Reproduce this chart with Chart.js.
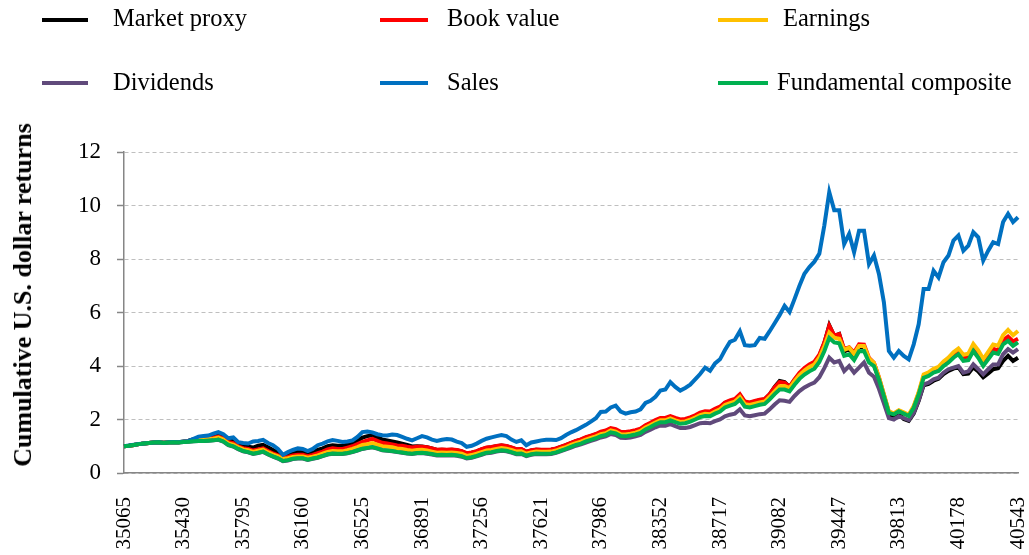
<!DOCTYPE html>
<html>
<head>
<meta charset="utf-8">
<script src="https://cdn.jsdelivr.net/npm/chart.js@4/dist/chart.umd.min.js"></script>
<style>
  html, body { margin: 0; padding: 0; background: #fff; overflow: hidden; }
  #wrap { position: relative; width: 1029px; height: 555px; }
  #chart { position: absolute; left: 0; top: 0; }
  .key { position: absolute; height: 4px; }
  .txt { position: absolute; font-family: "Liberation Serif", "Times New Roman", serif; font-size: 24.5px; line-height: 24.5px; color: #000; white-space: nowrap; }
  #ytitle { position: absolute; left: 23px; top: 295px; transform: translate(-50%, -50%) rotate(-90deg);
    font-family: "Liberation Serif", "Times New Roman", serif; font-weight: bold; font-size: 26px; white-space: nowrap; color: #000; }
</style>
</head>
<body>
<div id="wrap">
  <canvas id="chart" width="1029" height="555"></canvas>
  <div id="legend"></div>
  <div id="ytitle">Cumulative U.S. dollar returns</div>
</div>
<script>
// x axis: Jan 1 1996, then month ends to Dec 31 2010 (Excel serials)
const categories = [35065];
for (let k = 1; k <= 180; k++) {
    categories.push(Math.round((Date.UTC(1996, k, 0) - Date.UTC(1899, 11, 30)) / 86400000));
}
const tickLabels = ["35065", "35430", "35795", "36160", "36525", "36891", "37256", "37621",
    "37986", "38352", "38717", "39082", "39447", "39813", "40178", "40543"];
const yTicks = [0, 2, 4, 6, 8, 10, 12];

const seriesNames = ["Market proxy", "Book value", "Earnings", "Dividends", "Sales", "Fundamental composite"];
const seriesColors = ["#000000", "#FF0000", "#FFC000", "#604A7B", "#0070C0", "#00B050"];

const marketProxy = [1.00,
    1.02, 1.05, 1.08, 1.10, 1.12, 1.14, 1.15, 1.13, 1.15, 1.16, 1.15, 1.18, // 1996
    1.21, 1.26, 1.30, 1.32, 1.34, 1.38, 1.45, 1.40, 1.24, 1.22, 1.08, 1.00, // 1997
    0.98, 0.95, 1.02, 1.05, 0.96, 0.86, 0.76, 0.60, 0.66, 0.74, 0.80, 0.80, // 1998
    0.72, 0.78, 0.86, 0.92, 1.00, 1.04, 1.02, 1.02, 1.06, 1.12, 1.22, 1.32, // 1999
    1.38, 1.41, 1.34, 1.25, 1.22, 1.18, 1.14, 1.10, 1.05, 0.99, 1.00, 0.99, // 2000
    0.96, 0.92, 0.86, 0.87, 0.86, 0.87, 0.85, 0.81, 0.73, 0.76, 0.81, 0.88, // 2001
    0.94, 0.96, 1.00, 1.03, 1.00, 0.95, 0.88, 0.89, 0.79, 0.84, 0.87, 0.86, // 2002
    0.86, 0.87, 0.91, 0.98, 1.04, 1.12, 1.19, 1.25, 1.32, 1.38, 1.44, 1.52, // 2003
    1.56, 1.65, 1.61, 1.51, 1.50, 1.53, 1.57, 1.63, 1.76, 1.85, 1.95, 2.03, // 2004
    2.03, 2.10, 2.03, 1.97, 1.99, 2.05, 2.13, 2.23, 2.28, 2.27, 2.37, 2.45, // 2005
    2.62, 2.69, 2.74, 2.91, 2.64, 2.62, 2.67, 2.72, 2.75, 2.94, 3.22, 3.44, // 2006
    3.40, 3.22, 3.48, 3.70, 3.88, 4.02, 4.12, 4.38, 4.85, 5.52, 5.12, 5.20, // 2007
    4.55, 4.62, 4.40, 4.72, 4.70, 4.20, 4.05, 3.50, 2.85, 2.20, 2.12, 2.22, // 2008
    2.02, 1.95, 2.22, 2.70, 3.28, 3.33, 3.45, 3.52, 3.70, 3.82, 3.90, 3.95, // 2009
    3.70, 3.72, 3.95, 3.80, 3.58, 3.72, 3.88, 3.92, 4.19, 4.38, 4.19, 4.31  // 2010
];
const bookValue = [1.00,
    1.02, 1.05, 1.08, 1.10, 1.12, 1.14, 1.15, 1.13, 1.15, 1.16, 1.15, 1.17,
    1.20, 1.24, 1.27, 1.28, 1.30, 1.32, 1.36, 1.30, 1.16, 1.12, 1.00, 0.93,
    0.90, 0.84, 0.88, 0.92, 0.82, 0.73, 0.66, 0.56, 0.60, 0.66, 0.68, 0.68,
    0.63, 0.68, 0.74, 0.80, 0.88, 0.92, 0.90, 0.90, 0.95, 1.00, 1.08, 1.16,
    1.22, 1.28, 1.20, 1.13, 1.10, 1.07, 1.03, 1.02, 0.98, 0.95, 0.98, 0.98,
    0.96, 0.92, 0.87, 0.88, 0.87, 0.88, 0.86, 0.82, 0.74, 0.77, 0.82, 0.89,
    0.95, 0.97, 1.01, 1.04, 1.01, 0.96, 0.89, 0.90, 0.80, 0.85, 0.88, 0.87,
    0.87, 0.88, 0.92, 0.99, 1.05, 1.13, 1.20, 1.26, 1.34, 1.40, 1.46, 1.55,
    1.59, 1.68, 1.64, 1.54, 1.53, 1.56, 1.60, 1.66, 1.79, 1.88, 1.98, 2.06,
    2.06, 2.13, 2.06, 2.00, 2.02, 2.08, 2.16, 2.26, 2.31, 2.30, 2.40, 2.48,
    2.64, 2.71, 2.77, 2.94, 2.67, 2.64, 2.69, 2.74, 2.77, 2.95, 3.20, 3.40,
    3.38, 3.22, 3.50, 3.74, 3.92, 4.06, 4.16, 4.42, 4.88, 5.50, 5.14, 5.19,
    4.63, 4.70, 4.50, 4.81, 4.80, 4.30, 4.12, 3.58, 2.92, 2.28, 2.22, 2.33,
    2.24, 2.15, 2.47, 2.98, 3.62, 3.70, 3.83, 3.90, 4.09, 4.24, 4.42, 4.56,
    4.32, 4.35, 4.70, 4.45, 4.12, 4.38, 4.64, 4.58, 4.96, 5.10, 4.92, 5.02
];
const earnings = [1.00,
    1.02, 1.05, 1.08, 1.10, 1.12, 1.14, 1.15, 1.13, 1.15, 1.16, 1.15, 1.17,
    1.19, 1.22, 1.24, 1.25, 1.27, 1.28, 1.32, 1.25, 1.11, 1.06, 0.96, 0.88,
    0.85, 0.79, 0.83, 0.87, 0.77, 0.69, 0.62, 0.52, 0.55, 0.60, 0.62, 0.62,
    0.57, 0.61, 0.66, 0.72, 0.79, 0.82, 0.81, 0.81, 0.85, 0.90, 0.97, 1.05,
    1.08, 1.12, 1.06, 1.00, 0.98, 0.96, 0.92, 0.90, 0.86, 0.83, 0.86, 0.87,
    0.84, 0.80, 0.76, 0.77, 0.76, 0.77, 0.75, 0.72, 0.64, 0.67, 0.72, 0.78,
    0.84, 0.86, 0.90, 0.93, 0.91, 0.86, 0.80, 0.81, 0.72, 0.77, 0.80, 0.79,
    0.79, 0.80, 0.84, 0.91, 0.97, 1.05, 1.12, 1.17, 1.25, 1.31, 1.37, 1.45,
    1.49, 1.59, 1.55, 1.45, 1.44, 1.47, 1.51, 1.57, 1.70, 1.79, 1.89, 1.97,
    1.97, 2.04, 1.97, 1.91, 1.93, 1.99, 2.07, 2.16, 2.21, 2.20, 2.30, 2.38,
    2.54, 2.61, 2.67, 2.84, 2.57, 2.54, 2.59, 2.64, 2.67, 2.85, 3.05, 3.24,
    3.25, 3.17, 3.43, 3.66, 3.83, 3.96, 4.06, 4.32, 4.74, 5.25, 5.06, 5.02,
    4.60, 4.68, 4.45, 4.75, 4.75, 4.28, 4.12, 3.58, 2.94, 2.30, 2.23, 2.35,
    2.27, 2.18, 2.50, 3.02, 3.68, 3.76, 3.90, 3.97, 4.17, 4.31, 4.51, 4.65,
    4.42, 4.46, 4.82, 4.58, 4.26, 4.53, 4.80, 4.76, 5.15, 5.35, 5.15, 5.31
];
const dividends = [1.00,
    1.02, 1.05, 1.08, 1.10, 1.12, 1.14, 1.15, 1.12, 1.14, 1.15, 1.14, 1.16,
    1.17, 1.19, 1.20, 1.20, 1.21, 1.22, 1.24, 1.17, 1.04, 0.99, 0.89, 0.81,
    0.77, 0.71, 0.75, 0.79, 0.69, 0.61, 0.54, 0.44, 0.47, 0.52, 0.54, 0.54,
    0.49, 0.53, 0.57, 0.63, 0.69, 0.72, 0.71, 0.71, 0.74, 0.78, 0.84, 0.90,
    0.93, 0.96, 0.91, 0.85, 0.83, 0.81, 0.78, 0.76, 0.73, 0.71, 0.74, 0.75,
    0.72, 0.69, 0.65, 0.66, 0.65, 0.66, 0.64, 0.61, 0.54, 0.57, 0.62, 0.68,
    0.74, 0.76, 0.80, 0.83, 0.81, 0.76, 0.70, 0.71, 0.63, 0.68, 0.71, 0.70,
    0.70, 0.71, 0.75, 0.82, 0.88, 0.95, 1.02, 1.07, 1.14, 1.20, 1.26, 1.33,
    1.37, 1.46, 1.42, 1.32, 1.31, 1.33, 1.37, 1.42, 1.54, 1.62, 1.71, 1.78,
    1.77, 1.83, 1.75, 1.68, 1.68, 1.72, 1.79, 1.86, 1.88, 1.86, 1.94, 2.00,
    2.12, 2.18, 2.22, 2.38, 2.15, 2.12, 2.16, 2.20, 2.22, 2.38, 2.56, 2.72,
    2.70, 2.66, 2.88, 3.06, 3.20, 3.30, 3.38, 3.58, 3.92, 4.31, 4.13, 4.19,
    3.81, 4.00, 3.75, 3.94, 4.13, 3.75, 3.60, 3.15, 2.60, 2.05, 2.00, 2.12,
    2.05, 1.98, 2.25, 2.72, 3.31, 3.38, 3.50, 3.56, 3.75, 3.88, 3.94, 4.00,
    3.75, 3.80, 4.06, 3.88, 3.69, 3.88, 4.06, 4.06, 4.44, 4.63, 4.50, 4.63
];
const sales = [1.00,
    1.03, 1.06, 1.08, 1.10, 1.12, 1.14, 1.15, 1.13, 1.15, 1.16, 1.15, 1.18,
    1.20, 1.28, 1.36, 1.38, 1.40, 1.47, 1.53, 1.45, 1.30, 1.33, 1.15, 1.12,
    1.10, 1.18, 1.20, 1.24, 1.12, 1.04, 0.90, 0.68, 0.78, 0.86, 0.92, 0.90,
    0.82, 0.90, 1.04, 1.10, 1.18, 1.23, 1.20, 1.16, 1.18, 1.22, 1.35, 1.53,
    1.55, 1.52, 1.45, 1.41, 1.40, 1.44, 1.42, 1.35, 1.28, 1.22, 1.30, 1.38,
    1.33, 1.25, 1.20, 1.24, 1.27, 1.25, 1.17, 1.12, 0.98, 1.02, 1.10, 1.20,
    1.28, 1.33, 1.38, 1.42, 1.38, 1.25, 1.16, 1.22, 1.04, 1.14, 1.18, 1.22,
    1.24, 1.24, 1.23, 1.30, 1.42, 1.52, 1.60, 1.70, 1.80, 1.92, 2.05, 2.28,
    2.30, 2.45, 2.52, 2.30, 2.22, 2.27, 2.30, 2.38, 2.62, 2.70, 2.85, 3.08,
    3.12, 3.40, 3.22, 3.08, 3.18, 3.30, 3.50, 3.70, 3.94, 3.82, 4.10, 4.25,
    4.60, 4.90, 4.98, 5.30, 4.78, 4.76, 4.78, 5.05, 5.02, 5.30, 5.60, 5.90,
    6.25, 6.02, 6.50, 7.00, 7.45, 7.70, 7.90, 8.20, 9.25, 10.50, 9.82, 9.82,
    8.56, 8.94, 8.25, 9.06, 9.06, 7.81, 8.13, 7.44, 6.38, 4.56, 4.31, 4.56,
    4.38, 4.25, 4.81, 5.56, 6.88, 6.88, 7.56, 7.31, 7.88, 8.13, 8.69, 8.88,
    8.31, 8.50, 9.00, 8.81, 7.94, 8.31, 8.63, 8.56, 9.38, 9.69, 9.38, 9.56
];
const composite = [1.00,
    1.02, 1.05, 1.08, 1.10, 1.12, 1.14, 1.15, 1.12, 1.14, 1.15, 1.14, 1.16,
    1.17, 1.19, 1.20, 1.20, 1.21, 1.22, 1.25, 1.18, 1.05, 1.00, 0.90, 0.82,
    0.78, 0.72, 0.76, 0.80, 0.70, 0.62, 0.55, 0.45, 0.48, 0.53, 0.55, 0.55,
    0.50, 0.54, 0.58, 0.64, 0.70, 0.73, 0.72, 0.72, 0.75, 0.79, 0.85, 0.91,
    0.94, 0.97, 0.92, 0.86, 0.84, 0.82, 0.79, 0.77, 0.74, 0.72, 0.75, 0.76,
    0.74, 0.71, 0.67, 0.68, 0.67, 0.68, 0.66, 0.63, 0.56, 0.59, 0.64, 0.70,
    0.76, 0.78, 0.82, 0.85, 0.83, 0.78, 0.72, 0.73, 0.65, 0.70, 0.73, 0.72,
    0.72, 0.73, 0.77, 0.84, 0.90, 0.98, 1.05, 1.10, 1.18, 1.24, 1.30, 1.38,
    1.42, 1.52, 1.48, 1.38, 1.37, 1.40, 1.44, 1.50, 1.63, 1.72, 1.82, 1.90,
    1.90, 1.97, 1.90, 1.84, 1.86, 1.92, 2.00, 2.09, 2.13, 2.12, 2.22, 2.30,
    2.45, 2.52, 2.58, 2.74, 2.48, 2.45, 2.50, 2.55, 2.58, 2.75, 2.95, 3.12,
    3.12, 3.05, 3.30, 3.52, 3.68, 3.80, 3.90, 4.15, 4.55, 5.05, 4.88, 4.85,
    4.38, 4.44, 4.22, 4.55, 4.56, 4.13, 4.00, 3.50, 2.88, 2.25, 2.19, 2.31,
    2.22, 2.13, 2.44, 2.94, 3.56, 3.63, 3.75, 3.81, 4.00, 4.13, 4.31, 4.44,
    4.19, 4.22, 4.56, 4.31, 4.00, 4.25, 4.50, 4.45, 4.81, 4.94, 4.75, 4.88
];

const seriesData = [marketProxy, bookValue, earnings, dividends, sales, composite];

// legend, 2 rows x 3 columns
const legendSpots = [
    { lx: 42, lw: 46, ly: 20, tx: 113, ty: 6 },
    { lx: 380, lw: 48, ly: 20, tx: 447, ty: 6 },
    { lx: 718, lw: 50, ly: 20, tx: 783, ty: 6 },
    { lx: 42, lw: 46, ly: 83, tx: 113, ty: 70 },
    { lx: 380, lw: 48, ly: 83, tx: 447, ty: 70 },
    { lx: 718, lw: 50, ly: 83, tx: 777, ty: 70 }
];
const legend = document.getElementById("legend");
seriesNames.forEach(function (name, i) {
    const s = legendSpots[i];
    const key = document.createElement("div");
    key.className = "key";
    key.style.left = s.lx + "px";
    key.style.width = s.lw + "px";
    key.style.top = (s.ly - 2) + "px";
    key.style.background = seriesColors[i];
    legend.appendChild(key);
    const t = document.createElement("div");
    t.className = "txt";
    t.style.left = s.tx + "px";
    t.style.top = s.ty + "px";
    t.textContent = name;
    legend.appendChild(t);
});

const serif = "'Liberation Serif', 'Times New Roman', serif";

new Chart(document.getElementById("chart"), {
    type: "line",
    data: {
        labels: categories,
        datasets: seriesNames.map(function (name, i) {
            return {
                label: name,
                data: seriesData[i],
                borderColor: seriesColors[i],
                backgroundColor: seriesColors[i],
                borderWidth: 4,
                pointRadius: 0,
                tension: 0,
                fill: false,
                order: seriesNames.length - i
            };
        })
    },
    options: {
        responsive: false,
        animation: false,
        devicePixelRatio: 1,
        layout: { padding: { top: 152, left: 0, right: 0, bottom: 0 } },
        plugins: { legend: { display: false }, tooltip: { enabled: false } },
        scales: {
            x: {
                type: "category",
                offset: false,
                grid: { display: false, drawTicks: false },
                border: { display: true, color: "#868686", width: 1.5 },
                ticks: {
                    autoSkip: false,
                    minRotation: 90,
                    maxRotation: 90,
                    padding: 24,
                    color: "#000",
                    font: { family: serif, size: 21 },
                    callback: function (v, i) {
                        return i % 12 === 0 ? tickLabels[i / 12] : null;
                    }
                },
                afterFit: function (s) {
                    s.height = 555 - 473;
                    s.paddingRight = 11;
                    s.paddingLeft = 0;
                }
            },
            y: {
                min: 0,
                max: 12,
                afterBuildTicks: function (s) {
                    s.ticks = yTicks.map(function (v) { return { value: v }; });
                },
                grid: {
                    color: "#BFBFBF",
                    lineWidth: 1,
                    tickLength: 7,
                    tickColor: "#868686",
                    tickWidth: 1.5,
                    tickBorderDash: []
                },
                border: { display: true, color: "#868686", width: 1.5, dash: [4, 3] },
                ticks: {
                    padding: 16,
                    color: "#000",
                    font: { family: serif, size: 23 }
                },
                afterFit: function (s) {
                    s.width = 124;
                }
            }
        }
    }
});
</script>
</body>
</html>
